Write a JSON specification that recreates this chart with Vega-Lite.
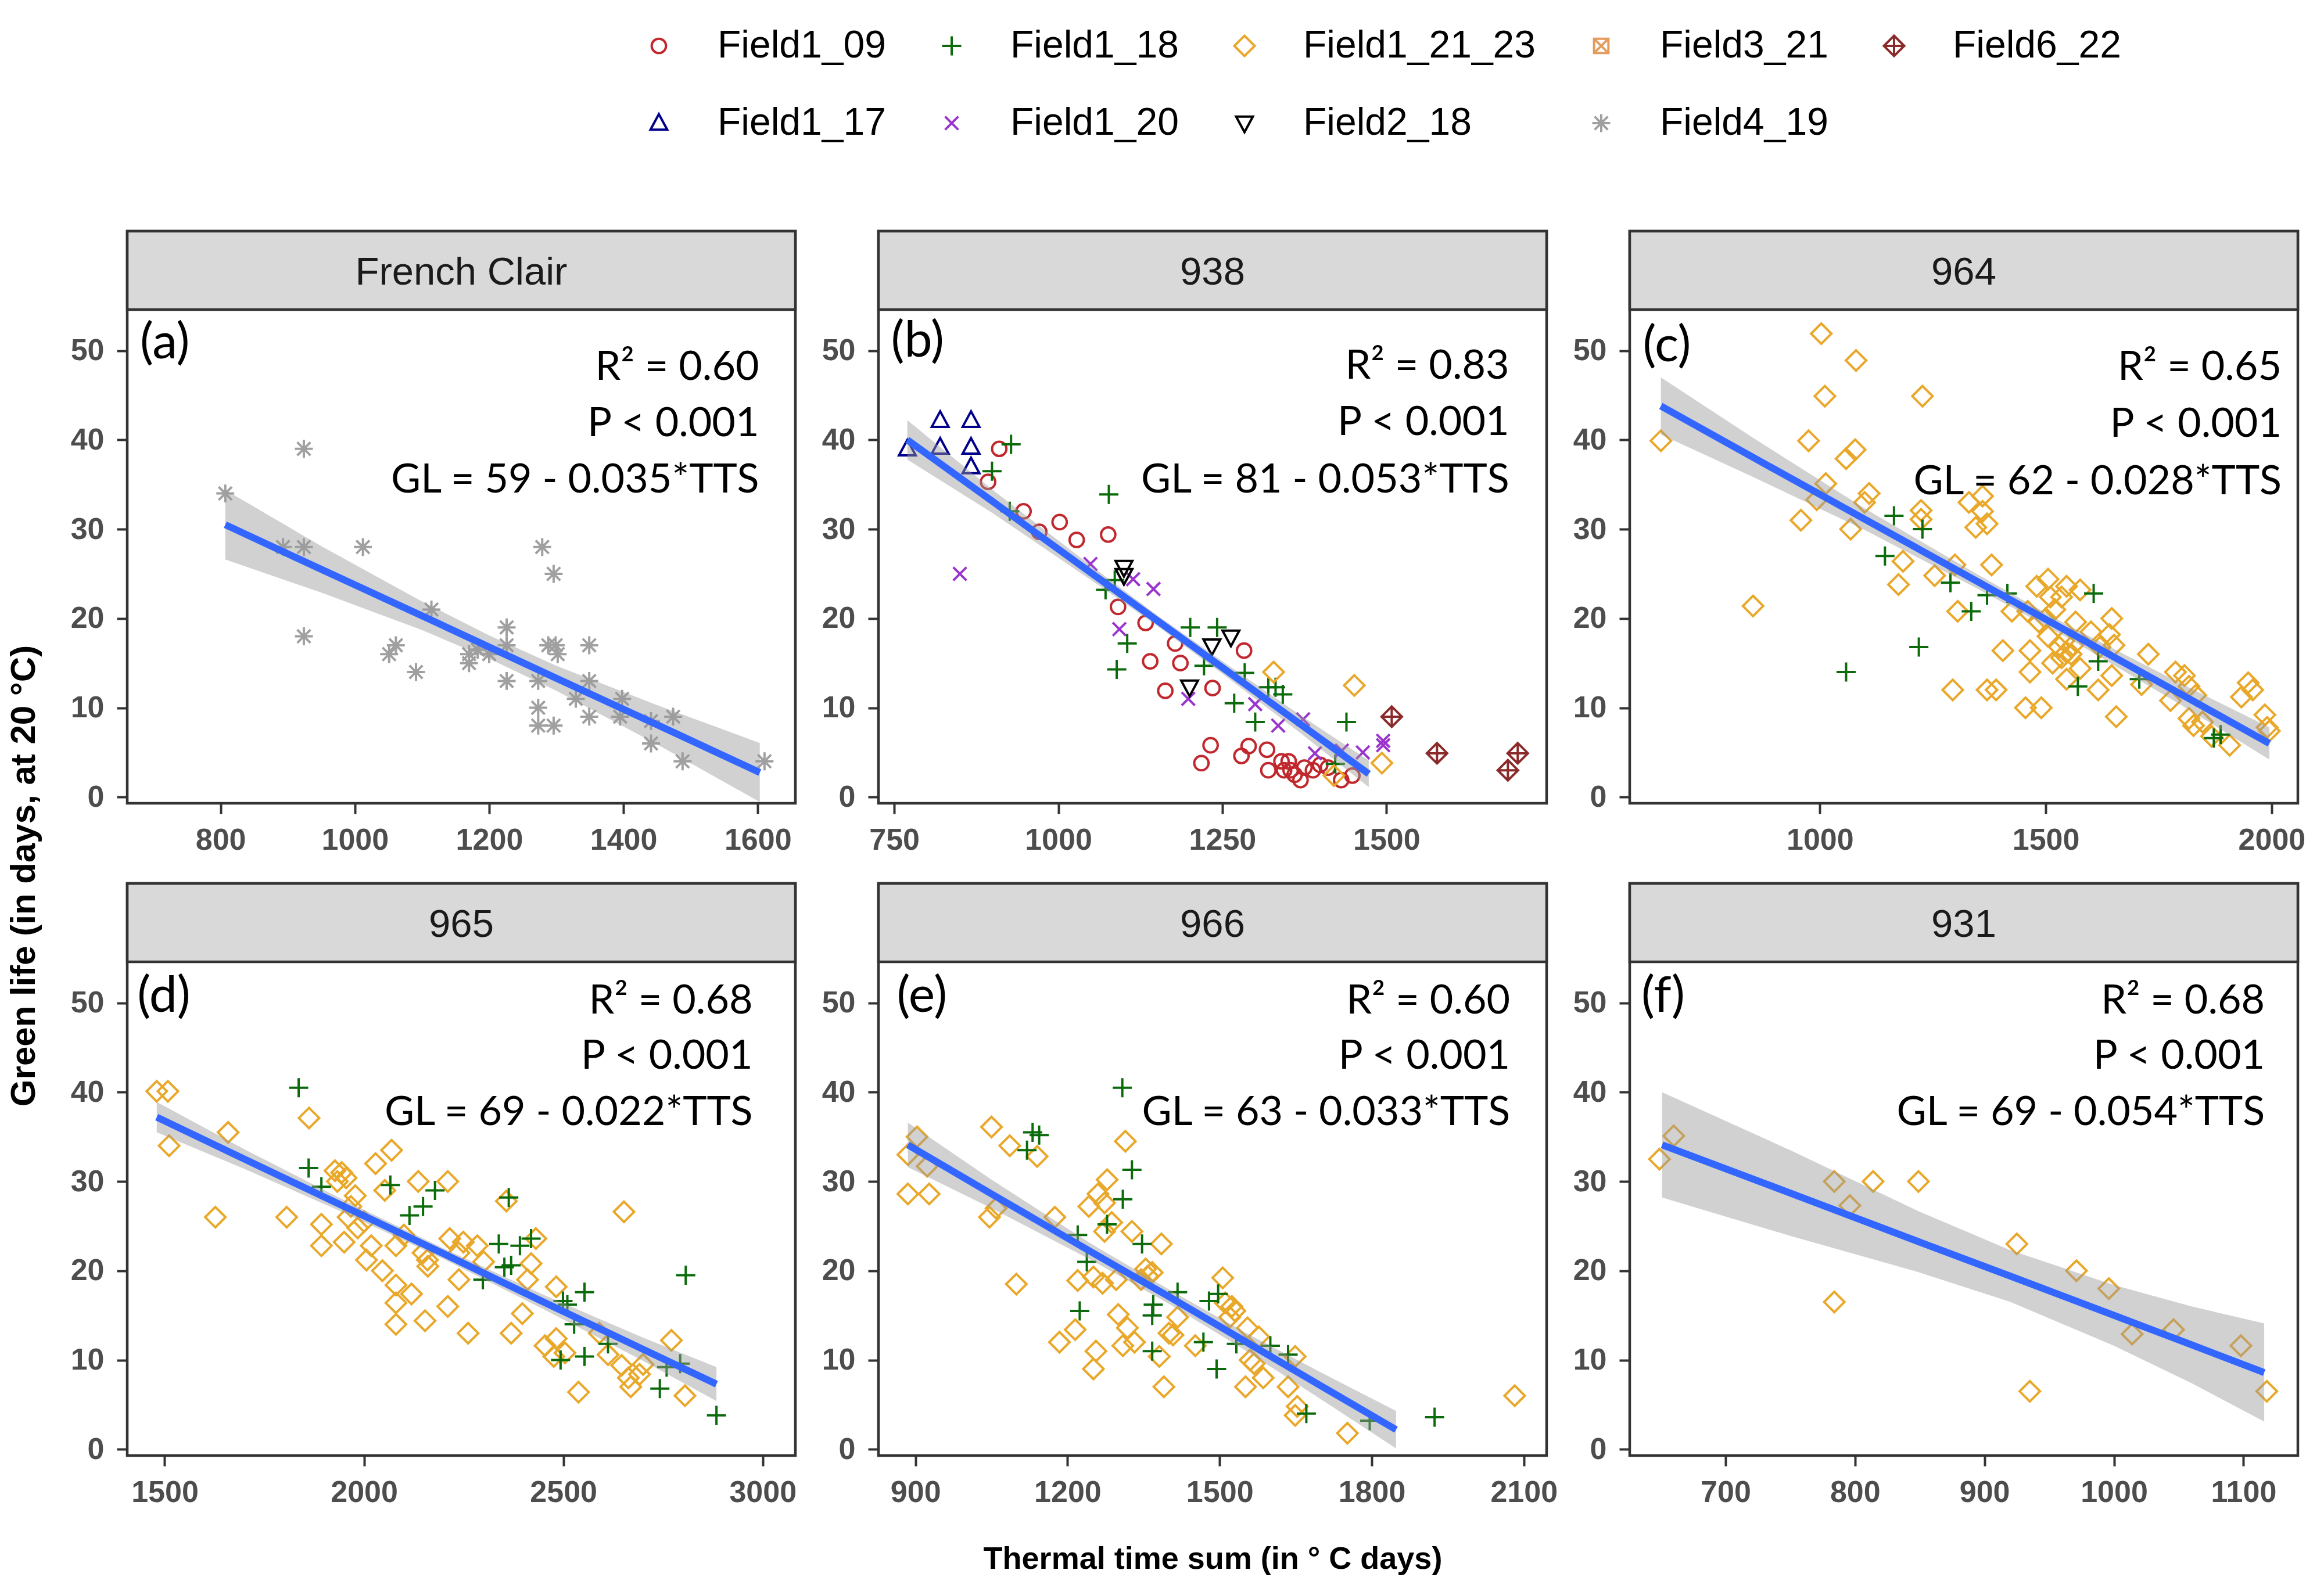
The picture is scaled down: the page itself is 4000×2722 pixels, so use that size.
{
  "$schema": "https://vega.github.io/schema/vega-lite/v6.json",
  "background": "white",
  "padding": {"left": 11, "top": 46, "right": 10, "bottom": 0},
  "title": {"text": "Green life (in days, at 20 °C)", "orient": "left", "anchor": "middle", "frame": "group", "font": "Liberation Sans", "fontSize": 60, "fontWeight": "bold", "color": "#000000", "offset": 46, "dx": -1110},
  "datasets": {
    "heads": [{"p": "a", "s": "French Clair"}, {"p": "b", "s": "938"}, {"p": "c", "s": "964"}, {"p": "d", "s": "965"}, {"p": "e", "s": "966"}, {"p": "f", "s": "931"}],
    "stat": [
      {"p": "a", "x": 1602, "y": 48.1, "t": "R² = 0.60"}, {"p": "a", "x": 1602, "y": 41.8, "t": "P < 0.001"}, {"p": "a", "x": 1602, "y": 35.5, "t": "GL = 59 - 0.035*TTS"},
      {"p": "b", "x": 1687, "y": 48.2, "t": "R² = 0.83"}, {"p": "b", "x": 1687, "y": 41.9, "t": "P < 0.001"}, {"p": "b", "x": 1687, "y": 35.5, "t": "GL = 81 - 0.053*TTS"},
      {"p": "c", "x": 2022, "y": 48.1, "t": "R² = 0.65"}, {"p": "c", "x": 2022, "y": 41.7, "t": "P < 0.001"}, {"p": "c", "x": 2022, "y": 35.3, "t": "GL = 62 - 0.028*TTS"},
      {"p": "d", "x": 2975, "y": 50.2, "t": "R² = 0.68"}, {"p": "d", "x": 2975, "y": 44.0, "t": "P < 0.001"}, {"p": "d", "x": 2975, "y": 37.7, "t": "GL = 69 - 0.022*TTS"},
      {"p": "e", "x": 2073, "y": 50.2, "t": "R² = 0.60"}, {"p": "e", "x": 2073, "y": 44.0, "t": "P < 0.001"}, {"p": "e", "x": 2073, "y": 37.7, "t": "GL = 63 - 0.033*TTS"},
      {"p": "f", "x": 1116.5, "y": 50.2, "t": "R² = 0.68"}, {"p": "f", "x": 1116.5, "y": 44.0, "t": "P < 0.001"}, {"p": "f", "x": 1116.5, "y": 37.7, "t": "GL = 69 - 0.054*TTS"}
    ],
    "tag": [
      {"p": "a", "x": 680, "y": 50.8, "t": "(a)"}, {"p": "b", "x": 745, "y": 51.0, "t": "(b)"}, {"p": "c", "x": 608, "y": 50.5, "t": "(c)"},
      {"p": "d", "x": 1431, "y": 50.7, "t": "(d)"}, {"p": "e", "x": 863, "y": 50.7, "t": "(e)"}, {"p": "f", "x": 635, "y": 50.7, "t": "(f)"}
    ],
    "fit": [
      {"p": "a", "x": 807, "y": 30.5, "lo": 26.6, "hi": 34.4}, {"p": "a", "x": 950, "y": 25.5, "lo": 22.9, "hi": 28.1}, {"p": "a", "x": 1100, "y": 20.3, "lo": 18.7, "hi": 21.9}, {"p": "a", "x": 1200, "y": 16.8, "lo": 15.5, "hi": 18.1}, {"p": "a", "x": 1300, "y": 13.3, "lo": 11.9, "hi": 14.7}, {"p": "a", "x": 1450, "y": 8.1, "lo": 5.9, "hi": 10.3}, {"p": "a", "x": 1603, "y": 2.75, "lo": -0.55, "hi": 6.05},
      {"p": "b", "x": 770, "y": 40.0, "lo": 37.8, "hi": 42.2}, {"p": "b", "x": 900, "y": 33.1, "lo": 31.8, "hi": 34.4}, {"p": "b", "x": 1050, "y": 25.1, "lo": 24.3, "hi": 25.9}, {"p": "b", "x": 1150, "y": 19.8, "lo": 19.2, "hi": 20.4}, {"p": "b", "x": 1250, "y": 14.5, "lo": 13.8, "hi": 15.2}, {"p": "b", "x": 1370, "y": 8.1, "lo": 7.1, "hi": 9.1}, {"p": "b", "x": 1473, "y": 2.6, "lo": 1.1, "hi": 4.1},
      {"p": "c", "x": 648, "y": 43.8, "lo": 40.6, "hi": 47.0}, {"p": "c", "x": 850, "y": 38.1, "lo": 35.9, "hi": 40.3}, {"p": "c", "x": 1100, "y": 31.1, "lo": 29.9, "hi": 32.3}, {"p": "c", "x": 1350, "y": 24.1, "lo": 23.3, "hi": 24.9}, {"p": "c", "x": 1550, "y": 18.5, "lo": 17.8, "hi": 19.2}, {"p": "c", "x": 1800, "y": 11.5, "lo": 10.3, "hi": 12.7}, {"p": "c", "x": 1995, "y": 6.0, "lo": 4.2, "hi": 7.8},
      {"p": "d", "x": 1480, "y": 37.2, "lo": 35.5, "hi": 38.9}, {"p": "d", "x": 1700, "y": 32.5, "lo": 31.4, "hi": 33.6}, {"p": "d", "x": 1950, "y": 27.2, "lo": 26.5, "hi": 27.9}, {"p": "d", "x": 2200, "y": 21.9, "lo": 21.3, "hi": 22.5}, {"p": "d", "x": 2450, "y": 16.5, "lo": 15.7, "hi": 17.3}, {"p": "d", "x": 2700, "y": 11.2, "lo": 9.9, "hi": 12.5}, {"p": "d", "x": 2884, "y": 7.3, "lo": 5.4, "hi": 9.2},
      {"p": "e", "x": 885, "y": 34.1, "lo": 31.6, "hi": 36.6}, {"p": "e", "x": 1050, "y": 28.6, "lo": 27.0, "hi": 30.2}, {"p": "e", "x": 1250, "y": 22.0, "lo": 21.1, "hi": 22.9}, {"p": "e", "x": 1400, "y": 17.1, "lo": 16.3, "hi": 17.9}, {"p": "e", "x": 1550, "y": 12.1, "lo": 11.1, "hi": 13.1}, {"p": "e", "x": 1700, "y": 7.1, "lo": 5.6, "hi": 8.6}, {"p": "e", "x": 1848, "y": 2.2, "lo": 0.1, "hi": 4.3},
      {"p": "f", "x": 651, "y": 34.1, "lo": 28.2, "hi": 40.0}, {"p": "f", "x": 750, "y": 28.7, "lo": 23.9, "hi": 33.5}, {"p": "f", "x": 850, "y": 23.2, "lo": 19.8, "hi": 26.6}, {"p": "f", "x": 920, "y": 19.4, "lo": 16.5, "hi": 22.3}, {"p": "f", "x": 1000, "y": 15.0, "lo": 11.6, "hi": 18.4}, {"p": "f", "x": 1060, "y": 11.7, "lo": 7.4, "hi": 16.0}, {"p": "f", "x": 1116, "y": 8.6, "lo": 3.1, "hi": 14.1}
    ],
    "pts": [
      {"p":"a","f":"Field4_19","x":807,"y":34},{"p":"a","f":"Field4_19","x":924,"y":39},{"p":"a","f":"Field4_19","x":893,"y":28},{"p":"a","f":"Field4_19","x":924,"y":28},{"p":"a","f":"Field4_19","x":1012,"y":28},{"p":"a","f":"Field4_19","x":924,"y":18},{"p":"a","f":"Field4_19","x":1061,"y":17},{"p":"a","f":"Field4_19","x":1051,"y":16},{"p":"a","f":"Field4_19","x":1091,"y":14},{"p":"a","f":"Field4_19","x":1114,"y":21},{"p":"a","f":"Field4_19","x":1170,"y":16},{"p":"a","f":"Field4_19","x":1170,"y":15},{"p":"a","f":"Field4_19","x":1183,"y":16.5},{"p":"a","f":"Field4_19","x":1200,"y":16},{"p":"a","f":"Field4_19","x":1226,"y":19},{"p":"a","f":"Field4_19","x":1226,"y":17},{"p":"a","f":"Field4_19","x":1226,"y":13},{"p":"a","f":"Field4_19","x":1273,"y":13},{"p":"a","f":"Field4_19","x":1279,"y":28},{"p":"a","f":"Field4_19","x":1296,"y":25},{"p":"a","f":"Field4_19","x":1288,"y":17},{"p":"a","f":"Field4_19","x":1299,"y":17},{"p":"a","f":"Field4_19","x":1302,"y":16},{"p":"a","f":"Field4_19","x":1273,"y":10},{"p":"a","f":"Field4_19","x":1273,"y":8},{"p":"a","f":"Field4_19","x":1296,"y":8},{"p":"a","f":"Field4_19","x":1349,"y":17},{"p":"a","f":"Field4_19","x":1349,"y":13},{"p":"a","f":"Field4_19","x":1329,"y":11},{"p":"a","f":"Field4_19","x":1349,"y":9},{"p":"a","f":"Field4_19","x":1398,"y":11},{"p":"a","f":"Field4_19","x":1395,"y":9},{"p":"a","f":"Field4_19","x":1441,"y":8.5},{"p":"a","f":"Field4_19","x":1441,"y":6},{"p":"a","f":"Field4_19","x":1474,"y":9},{"p":"a","f":"Field4_19","x":1488,"y":4},{"p":"a","f":"Field4_19","x":1610,"y":4},
      {"p":"b","f":"Field1_17","x":770,"y":39},{"p":"b","f":"Field1_17","x":820,"y":42.2},{"p":"b","f":"Field1_17","x":820,"y":39.2},{"p":"b","f":"Field1_17","x":867,"y":42.2},{"p":"b","f":"Field1_17","x":867,"y":39.2},{"p":"b","f":"Field1_17","x":867,"y":37},
      {"p":"b","f":"Field1_09","x":910,"y":39},{"p":"b","f":"Field1_09","x":893,"y":35.3},{"p":"b","f":"Field1_09","x":947,"y":32},{"p":"b","f":"Field1_09","x":971,"y":29.7},{"p":"b","f":"Field1_09","x":1002,"y":30.8},{"p":"b","f":"Field1_09","x":1028,"y":28.8},{"p":"b","f":"Field1_09","x":1076,"y":29.4},{"p":"b","f":"Field1_09","x":1091,"y":21.3},{"p":"b","f":"Field1_09","x":1133,"y":19.5},{"p":"b","f":"Field1_09","x":1178,"y":17.2},{"p":"b","f":"Field1_09","x":1140,"y":15.2},{"p":"b","f":"Field1_09","x":1186,"y":15},{"p":"b","f":"Field1_09","x":1235,"y":12.2},{"p":"b","f":"Field1_09","x":1163,"y":11.9},{"p":"b","f":"Field1_09","x":1283,"y":16.4},{"p":"b","f":"Field1_09","x":1232,"y":5.8},{"p":"b","f":"Field1_09","x":1218,"y":3.8},{"p":"b","f":"Field1_09","x":1279,"y":4.6},{"p":"b","f":"Field1_09","x":1290,"y":5.7},{"p":"b","f":"Field1_09","x":1318,"y":5.3},{"p":"b","f":"Field1_09","x":1320,"y":3},{"p":"b","f":"Field1_09","x":1344,"y":3},{"p":"b","f":"Field1_09","x":1351,"y":4},{"p":"b","f":"Field1_09","x":1354,"y":3},{"p":"b","f":"Field1_09","x":1369,"y":1.9},{"p":"b","f":"Field1_09","x":1388,"y":3},{"p":"b","f":"Field1_09","x":1399,"y":3.6},{"p":"b","f":"Field1_09","x":1431,"y":1.9},{"p":"b","f":"Field1_09","x":1448,"y":2.4},{"p":"b","f":"Field1_09","x":1411,"y":3.3},{"p":"b","f":"Field1_09","x":1375,"y":3.3},{"p":"b","f":"Field1_09","x":1340,"y":4},{"p":"b","f":"Field1_09","x":1360,"y":2.5},
      {"p":"b","f":"Field1_18","x":928,"y":39.5},{"p":"b","f":"Field1_18","x":899,"y":36.5},{"p":"b","f":"Field1_18","x":1077,"y":33.9},{"p":"b","f":"Field1_18","x":926,"y":32},{"p":"b","f":"Field1_18","x":1086,"y":24.3},{"p":"b","f":"Field1_18","x":1072,"y":23.2},{"p":"b","f":"Field1_18","x":1105,"y":17.2},{"p":"b","f":"Field1_18","x":1089,"y":14.3},{"p":"b","f":"Field1_18","x":1201,"y":19},{"p":"b","f":"Field1_18","x":1242,"y":19},{"p":"b","f":"Field1_18","x":1222,"y":14.7},{"p":"b","f":"Field1_18","x":1284,"y":13.9},{"p":"b","f":"Field1_18","x":1268,"y":10.5},{"p":"b","f":"Field1_18","x":1300,"y":8.4},{"p":"b","f":"Field1_18","x":1439,"y":8.4},{"p":"b","f":"Field1_18","x":1320,"y":12.3},{"p":"b","f":"Field1_18","x":1331,"y":12.3},{"p":"b","f":"Field1_18","x":1342,"y":11.5},{"p":"b","f":"Field1_18","x":1422,"y":3.7},
      {"p":"b","f":"Field1_20","x":850,"y":25},{"p":"b","f":"Field1_20","x":1049,"y":26.1},{"p":"b","f":"Field1_20","x":1114,"y":24.4},{"p":"b","f":"Field1_20","x":1145,"y":23.3},{"p":"b","f":"Field1_20","x":1093,"y":18.8},{"p":"b","f":"Field1_20","x":1198,"y":11},{"p":"b","f":"Field1_20","x":1300,"y":10.4},{"p":"b","f":"Field1_20","x":1335,"y":8},{"p":"b","f":"Field1_20","x":1373,"y":8.7},{"p":"b","f":"Field1_20","x":1432,"y":5.2},{"p":"b","f":"Field1_20","x":1464,"y":5},{"p":"b","f":"Field1_20","x":1495,"y":5.8},{"p":"b","f":"Field1_20","x":1495,"y":6.3},{"p":"b","f":"Field1_20","x":1391,"y":4.9},
      {"p":"b","f":"Field2_18","x":1100,"y":25.7},{"p":"b","f":"Field2_18","x":1100,"y":24.8},{"p":"b","f":"Field2_18","x":1234,"y":16.9},{"p":"b","f":"Field2_18","x":1263,"y":17.9},{"p":"b","f":"Field2_18","x":1200,"y":12.3},
      {"p":"b","f":"Field1_21_23","x":1328,"y":14},{"p":"b","f":"Field1_21_23","x":1451,"y":12.5},{"p":"b","f":"Field1_21_23","x":1493,"y":3.8},{"p":"b","f":"Field1_21_23","x":1420,"y":2.4},
      {"p":"b","f":"Field6_22","x":1508,"y":9},{"p":"b","f":"Field6_22","x":1577,"y":4.9},{"p":"b","f":"Field6_22","x":1700,"y":4.9},{"p":"b","f":"Field6_22","x":1685,"y":3},
      {"p":"c","f":"Field1_21_23","x":1003,"y":51.9},{"p":"c","f":"Field1_21_23","x":1080,"y":48.9},{"p":"c","f":"Field1_21_23","x":1011,"y":44.9},{"p":"c","f":"Field1_21_23","x":1227,"y":44.9},{"p":"c","f":"Field1_21_23","x":648,"y":39.9},{"p":"c","f":"Field1_21_23","x":975,"y":39.9},{"p":"c","f":"Field1_21_23","x":1078,"y":38.9},{"p":"c","f":"Field1_21_23","x":1058,"y":37.9},{"p":"c","f":"Field1_21_23","x":1013,"y":35.1},{"p":"c","f":"Field1_21_23","x":1109,"y":34},{"p":"c","f":"Field1_21_23","x":1099,"y":33},{"p":"c","f":"Field1_21_23","x":993,"y":33.3},{"p":"c","f":"Field1_21_23","x":958,"y":31},{"p":"c","f":"Field1_21_23","x":1224,"y":32.1},{"p":"c","f":"Field1_21_23","x":1224,"y":31.1},{"p":"c","f":"Field1_21_23","x":1068,"y":30},{"p":"c","f":"Field1_21_23","x":1330,"y":33},{"p":"c","f":"Field1_21_23","x":1360,"y":33.7},{"p":"c","f":"Field1_21_23","x":1360,"y":32},{"p":"c","f":"Field1_21_23","x":1345,"y":30.2},{"p":"c","f":"Field1_21_23","x":1370,"y":30.6},{"p":"c","f":"Field1_21_23","x":1184,"y":26.4},{"p":"c","f":"Field1_21_23","x":1174,"y":23.8},{"p":"c","f":"Field1_21_23","x":1299,"y":26},{"p":"c","f":"Field1_21_23","x":1254,"y":24.8},{"p":"c","f":"Field1_21_23","x":1380,"y":26},{"p":"c","f":"Field1_21_23","x":852,"y":21.4},{"p":"c","f":"Field1_21_23","x":1305,"y":20.8},{"p":"c","f":"Field1_21_23","x":1294,"y":12},{"p":"c","f":"Field1_21_23","x":1370,"y":12},{"p":"c","f":"Field1_21_23","x":1390,"y":12},{"p":"c","f":"Field1_21_23","x":1455,"y":10},{"p":"c","f":"Field1_21_23","x":1490,"y":10},{"p":"c","f":"Field1_21_23","x":1656,"y":9},{"p":"c","f":"Field1_21_23","x":1405,"y":16.4},{"p":"c","f":"Field1_21_23","x":1425,"y":20.8},{"p":"c","f":"Field1_21_23","x":1480,"y":23.6},{"p":"c","f":"Field1_21_23","x":1505,"y":24.4},{"p":"c","f":"Field1_21_23","x":1510,"y":22.4},{"p":"c","f":"Field1_21_23","x":1535,"y":22.4},{"p":"c","f":"Field1_21_23","x":1546,"y":23.6},{"p":"c","f":"Field1_21_23","x":1576,"y":23.2},{"p":"c","f":"Field1_21_23","x":1460,"y":20.8},{"p":"c","f":"Field1_21_23","x":1485,"y":19.6},{"p":"c","f":"Field1_21_23","x":1505,"y":18},{"p":"c","f":"Field1_21_23","x":1530,"y":16.8},{"p":"c","f":"Field1_21_23","x":1546,"y":16.2},{"p":"c","f":"Field1_21_23","x":1556,"y":16},{"p":"c","f":"Field1_21_23","x":1535,"y":15.6},{"p":"c","f":"Field1_21_23","x":1465,"y":16.4},{"p":"c","f":"Field1_21_23","x":1465,"y":14},{"p":"c","f":"Field1_21_23","x":1546,"y":13.2},{"p":"c","f":"Field1_21_23","x":1616,"y":12},{"p":"c","f":"Field1_21_23","x":1576,"y":14.4},{"p":"c","f":"Field1_21_23","x":1566,"y":19.6},{"p":"c","f":"Field1_21_23","x":1646,"y":20},{"p":"c","f":"Field1_21_23","x":1641,"y":18.2},{"p":"c","f":"Field1_21_23","x":1651,"y":17},{"p":"c","f":"Field1_21_23","x":1646,"y":13.6},{"p":"c","f":"Field1_21_23","x":1727,"y":16},{"p":"c","f":"Field1_21_23","x":1712,"y":12.6},{"p":"c","f":"Field1_21_23","x":1787,"y":14},{"p":"c","f":"Field1_21_23","x":1807,"y":13.6},{"p":"c","f":"Field1_21_23","x":1817,"y":12.4},{"p":"c","f":"Field1_21_23","x":1776,"y":10.8},{"p":"c","f":"Field1_21_23","x":1832,"y":11.4},{"p":"c","f":"Field1_21_23","x":1817,"y":8.8},{"p":"c","f":"Field1_21_23","x":1827,"y":8},{"p":"c","f":"Field1_21_23","x":1847,"y":8.4},{"p":"c","f":"Field1_21_23","x":1867,"y":6.8},{"p":"c","f":"Field1_21_23","x":1907,"y":5.8},{"p":"c","f":"Field1_21_23","x":1948,"y":12.8},{"p":"c","f":"Field1_21_23","x":1958,"y":12},{"p":"c","f":"Field1_21_23","x":1933,"y":11.2},{"p":"c","f":"Field1_21_23","x":1985,"y":9.2},{"p":"c","f":"Field1_21_23","x":1990,"y":7.8},{"p":"c","f":"Field1_21_23","x":1995,"y":7.4},{"p":"c","f":"Field1_21_23","x":1520,"y":21},{"p":"c","f":"Field1_21_23","x":1500,"y":20},{"p":"c","f":"Field1_21_23","x":1540,"y":17.5},{"p":"c","f":"Field1_21_23","x":1560,"y":17},{"p":"c","f":"Field1_21_23","x":1515,"y":15},{"p":"c","f":"Field1_21_23","x":1600,"y":18.5},{"p":"c","f":"Field1_21_23","x":1620,"y":16.8},
      {"p":"c","f":"Field1_18","x":1164,"y":31.5},{"p":"c","f":"Field1_18","x":1227,"y":30},{"p":"c","f":"Field1_18","x":1144,"y":27},{"p":"c","f":"Field1_18","x":1289,"y":24},{"p":"c","f":"Field1_18","x":1415,"y":22.8},{"p":"c","f":"Field1_18","x":1606,"y":22.8},{"p":"c","f":"Field1_18","x":1370,"y":22.6},{"p":"c","f":"Field1_18","x":1335,"y":20.8},{"p":"c","f":"Field1_18","x":1219,"y":16.8},{"p":"c","f":"Field1_18","x":1058,"y":14},{"p":"c","f":"Field1_18","x":1616,"y":15.2},{"p":"c","f":"Field1_18","x":1571,"y":12.4},{"p":"c","f":"Field1_18","x":1707,"y":13.2},{"p":"c","f":"Field1_18","x":1872,"y":6.6},{"p":"c","f":"Field1_18","x":1887,"y":7},
      {"p":"d","f":"Field1_21_23","x":1480,"y":40.1},{"p":"d","f":"Field1_21_23","x":1508,"y":40.1},{"p":"d","f":"Field1_21_23","x":1511,"y":34},{"p":"d","f":"Field1_21_23","x":1627,"y":26},{"p":"d","f":"Field1_21_23","x":1659,"y":35.5},{"p":"d","f":"Field1_21_23","x":1806,"y":26},{"p":"d","f":"Field1_21_23","x":1862,"y":37.1},{"p":"d","f":"Field1_21_23","x":1927,"y":31.2},{"p":"d","f":"Field1_21_23","x":1944,"y":31},{"p":"d","f":"Field1_21_23","x":1955,"y":30.4},{"p":"d","f":"Field1_21_23","x":1933,"y":30},{"p":"d","f":"Field1_21_23","x":1978,"y":28.4},{"p":"d","f":"Field1_21_23","x":1967,"y":27.2},{"p":"d","f":"Field1_21_23","x":2029,"y":32},{"p":"d","f":"Field1_21_23","x":2069,"y":33.5},{"p":"d","f":"Field1_21_23","x":2052,"y":29},{"p":"d","f":"Field1_21_23","x":2136,"y":30},{"p":"d","f":"Field1_21_23","x":2210,"y":30},{"p":"d","f":"Field1_21_23","x":1893,"y":25.2},{"p":"d","f":"Field1_21_23","x":1893,"y":22.8},{"p":"d","f":"Field1_21_23","x":1950,"y":23.2},{"p":"d","f":"Field1_21_23","x":1984,"y":24.8},{"p":"d","f":"Field1_21_23","x":2018,"y":22.8},{"p":"d","f":"Field1_21_23","x":2006,"y":21.2},{"p":"d","f":"Field1_21_23","x":2046,"y":20},{"p":"d","f":"Field1_21_23","x":2080,"y":18.4},{"p":"d","f":"Field1_21_23","x":2080,"y":16.4},{"p":"d","f":"Field1_21_23","x":2119,"y":17.4},{"p":"d","f":"Field1_21_23","x":2080,"y":14},{"p":"d","f":"Field1_21_23","x":2153,"y":14.4},{"p":"d","f":"Field1_21_23","x":2210,"y":16},{"p":"d","f":"Field1_21_23","x":2238,"y":19},{"p":"d","f":"Field1_21_23","x":2261,"y":13},{"p":"d","f":"Field1_21_23","x":2159,"y":21.2},{"p":"d","f":"Field1_21_23","x":2148,"y":22},{"p":"d","f":"Field1_21_23","x":2080,"y":22.8},{"p":"d","f":"Field1_21_23","x":2215,"y":23.6},{"p":"d","f":"Field1_21_23","x":2249,"y":23.2},{"p":"d","f":"Field1_21_23","x":2284,"y":22.8},{"p":"d","f":"Field1_21_23","x":2238,"y":22},{"p":"d","f":"Field1_21_23","x":2369,"y":13},{"p":"d","f":"Field1_21_23","x":2397,"y":15.2},{"p":"d","f":"Field1_21_23","x":2357,"y":27.8},{"p":"d","f":"Field1_21_23","x":2419,"y":20.8},{"p":"d","f":"Field1_21_23","x":2431,"y":23.6},{"p":"d","f":"Field1_21_23","x":2482,"y":18.2},{"p":"d","f":"Field1_21_23","x":2454,"y":11.6},{"p":"d","f":"Field1_21_23","x":2482,"y":12.4},{"p":"d","f":"Field1_21_23","x":2504,"y":10.8},{"p":"d","f":"Field1_21_23","x":2476,"y":10.4},{"p":"d","f":"Field1_21_23","x":2538,"y":6.4},{"p":"d","f":"Field1_21_23","x":2652,"y":26.6},{"p":"d","f":"Field1_21_23","x":2612,"y":10.6},{"p":"d","f":"Field1_21_23","x":2663,"y":8},{"p":"d","f":"Field1_21_23","x":2669,"y":7},{"p":"d","f":"Field1_21_23","x":2691,"y":8.4},{"p":"d","f":"Field1_21_23","x":2771,"y":12.2},{"p":"d","f":"Field1_21_23","x":2805,"y":6},{"p":"d","f":"Field1_21_23","x":2646,"y":9.4},{"p":"d","f":"Field1_21_23","x":1960,"y":26},{"p":"d","f":"Field1_21_23","x":2000,"y":25.5},{"p":"d","f":"Field1_21_23","x":2100,"y":24},{"p":"d","f":"Field1_21_23","x":2160,"y":20.5},{"p":"d","f":"Field1_21_23","x":2300,"y":21},{"p":"d","f":"Field1_21_23","x":2410,"y":19},{"p":"d","f":"Field1_21_23","x":2590,"y":13},{"p":"d","f":"Field1_21_23","x":2700,"y":9.5},
      {"p":"d","f":"Field1_18","x":1836,"y":40.5},{"p":"d","f":"Field1_18","x":1861,"y":31.5},{"p":"d","f":"Field1_18","x":1893,"y":29.4},{"p":"d","f":"Field1_18","x":2066,"y":29.6},{"p":"d","f":"Field1_18","x":2178,"y":29},{"p":"d","f":"Field1_18","x":2148,"y":27.2},{"p":"d","f":"Field1_18","x":2114,"y":26.2},{"p":"d","f":"Field1_18","x":2363,"y":28.2},{"p":"d","f":"Field1_18","x":2338,"y":23},{"p":"d","f":"Field1_18","x":2391,"y":22.8},{"p":"d","f":"Field1_18","x":2419,"y":23.6},{"p":"d","f":"Field1_18","x":2352,"y":20.4},{"p":"d","f":"Field1_18","x":2369,"y":20.6},{"p":"d","f":"Field1_18","x":2298,"y":19},{"p":"d","f":"Field1_18","x":2499,"y":16.6},{"p":"d","f":"Field1_18","x":2510,"y":16.2},{"p":"d","f":"Field1_18","x":2553,"y":17.6},{"p":"d","f":"Field1_18","x":2527,"y":14},{"p":"d","f":"Field1_18","x":2553,"y":10.4},{"p":"d","f":"Field1_18","x":2493,"y":10},{"p":"d","f":"Field1_18","x":2612,"y":11.8},{"p":"d","f":"Field1_18","x":2742,"y":6.8},{"p":"d","f":"Field1_18","x":2759,"y":9.2},{"p":"d","f":"Field1_18","x":2793,"y":9.6},{"p":"d","f":"Field1_18","x":2807,"y":19.5},{"p":"d","f":"Field1_18","x":2884,"y":3.8},
      {"p":"e","f":"Field1_21_23","x":885,"y":33},{"p":"e","f":"Field1_21_23","x":903,"y":35},{"p":"e","f":"Field1_21_23","x":923,"y":31.7},{"p":"e","f":"Field1_21_23","x":885,"y":28.6},{"p":"e","f":"Field1_21_23","x":927,"y":28.6},{"p":"e","f":"Field1_21_23","x":1050,"y":36.1},{"p":"e","f":"Field1_21_23","x":1086,"y":34},{"p":"e","f":"Field1_21_23","x":1140,"y":32.8},{"p":"e","f":"Field1_21_23","x":1046,"y":26},{"p":"e","f":"Field1_21_23","x":1059,"y":27},{"p":"e","f":"Field1_21_23","x":1099,"y":18.5},{"p":"e","f":"Field1_21_23","x":1175,"y":26},{"p":"e","f":"Field1_21_23","x":1314,"y":34.5},{"p":"e","f":"Field1_21_23","x":1278,"y":30.2},{"p":"e","f":"Field1_21_23","x":1260,"y":28.6},{"p":"e","f":"Field1_21_23","x":1242,"y":27.2},{"p":"e","f":"Field1_21_23","x":1273,"y":27.6},{"p":"e","f":"Field1_21_23","x":1287,"y":25.4},{"p":"e","f":"Field1_21_23","x":1273,"y":24.4},{"p":"e","f":"Field1_21_23","x":1327,"y":24.4},{"p":"e","f":"Field1_21_23","x":1385,"y":23},{"p":"e","f":"Field1_21_23","x":1220,"y":18.9},{"p":"e","f":"Field1_21_23","x":1251,"y":19.3},{"p":"e","f":"Field1_21_23","x":1269,"y":18.6},{"p":"e","f":"Field1_21_23","x":1296,"y":19},{"p":"e","f":"Field1_21_23","x":1354,"y":20.2},{"p":"e","f":"Field1_21_23","x":1367,"y":19.8},{"p":"e","f":"Field1_21_23","x":1358,"y":19.4},{"p":"e","f":"Field1_21_23","x":1300,"y":15.1},{"p":"e","f":"Field1_21_23","x":1215,"y":13.4},{"p":"e","f":"Field1_21_23","x":1184,"y":12},{"p":"e","f":"Field1_21_23","x":1256,"y":11},{"p":"e","f":"Field1_21_23","x":1251,"y":9},{"p":"e","f":"Field1_21_23","x":1318,"y":13.6},{"p":"e","f":"Field1_21_23","x":1332,"y":12},{"p":"e","f":"Field1_21_23","x":1309,"y":11.6},{"p":"e","f":"Field1_21_23","x":1381,"y":10.4},{"p":"e","f":"Field1_21_23","x":1390,"y":7},{"p":"e","f":"Field1_21_23","x":1408,"y":12.8},{"p":"e","f":"Field1_21_23","x":1417,"y":14.8},{"p":"e","f":"Field1_21_23","x":1452,"y":11.6},{"p":"e","f":"Field1_21_23","x":1506,"y":19.2},{"p":"e","f":"Field1_21_23","x":1511,"y":16.4},{"p":"e","f":"Field1_21_23","x":1524,"y":16},{"p":"e","f":"Field1_21_23","x":1520,"y":14.8},{"p":"e","f":"Field1_21_23","x":1555,"y":13.6},{"p":"e","f":"Field1_21_23","x":1577,"y":12.6},{"p":"e","f":"Field1_21_23","x":1568,"y":9.6},{"p":"e","f":"Field1_21_23","x":1551,"y":7},{"p":"e","f":"Field1_21_23","x":1586,"y":8},{"p":"e","f":"Field1_21_23","x":1635,"y":7},{"p":"e","f":"Field1_21_23","x":1649,"y":10.4},{"p":"e","f":"Field1_21_23","x":1653,"y":4.8},{"p":"e","f":"Field1_21_23","x":1649,"y":3.8},{"p":"e","f":"Field1_21_23","x":1752,"y":1.8},{"p":"e","f":"Field1_21_23","x":2082,"y":6},{"p":"e","f":"Field1_21_23","x":1345,"y":19},{"p":"e","f":"Field1_21_23","x":1400,"y":13},{"p":"e","f":"Field1_21_23","x":1530,"y":15.5},{"p":"e","f":"Field1_21_23","x":1560,"y":10},
      {"p":"e","f":"Field1_18","x":1308,"y":40.5},{"p":"e","f":"Field1_18","x":1131,"y":35.5},{"p":"e","f":"Field1_18","x":1144,"y":35.2},{"p":"e","f":"Field1_18","x":1120,"y":33.5},{"p":"e","f":"Field1_18","x":1327,"y":31.3},{"p":"e","f":"Field1_18","x":1309,"y":28},{"p":"e","f":"Field1_18","x":1278,"y":25.2},{"p":"e","f":"Field1_18","x":1347,"y":23},{"p":"e","f":"Field1_18","x":1220,"y":24},{"p":"e","f":"Field1_18","x":1238,"y":21},{"p":"e","f":"Field1_18","x":1224,"y":15.5},{"p":"e","f":"Field1_18","x":1367,"y":15},{"p":"e","f":"Field1_18","x":1369,"y":16.2},{"p":"e","f":"Field1_18","x":1417,"y":17.6},{"p":"e","f":"Field1_18","x":1479,"y":16.6},{"p":"e","f":"Field1_18","x":1497,"y":17.4},{"p":"e","f":"Field1_18","x":1468,"y":12},{"p":"e","f":"Field1_18","x":1367,"y":11},{"p":"e","f":"Field1_18","x":1494,"y":9},{"p":"e","f":"Field1_18","x":1533,"y":11.8},{"p":"e","f":"Field1_18","x":1600,"y":11.6},{"p":"e","f":"Field1_18","x":1635,"y":10.6},{"p":"e","f":"Field1_18","x":1671,"y":4},{"p":"e","f":"Field1_18","x":1796,"y":3.2},{"p":"e","f":"Field1_18","x":1924,"y":3.6},
      {"p":"f","f":"Field1_21_23","x":649,"y":32.5},{"p":"f","f":"Field1_21_23","x":660,"y":35.1},{"p":"f","f":"Field1_21_23","x":784,"y":30},{"p":"f","f":"Field1_21_23","x":814,"y":30},{"p":"f","f":"Field1_21_23","x":849,"y":30},{"p":"f","f":"Field1_21_23","x":796,"y":27.3},{"p":"f","f":"Field1_21_23","x":784,"y":16.5},{"p":"f","f":"Field1_21_23","x":925,"y":23},{"p":"f","f":"Field1_21_23","x":935,"y":6.5},{"p":"f","f":"Field1_21_23","x":971,"y":20},{"p":"f","f":"Field1_21_23","x":996,"y":18},{"p":"f","f":"Field1_21_23","x":1014,"y":12.9},{"p":"f","f":"Field1_21_23","x":1046,"y":13.4},{"p":"f","f":"Field1_21_23","x":1098,"y":11.6},{"p":"f","f":"Field1_21_23","x":1118,"y":6.5}
    ]
  },
  "columns": 3,
  "spacing": {"row": 138, "column": 143},
  "bounds": "flush",
  "resolve": {"scale": {"x": "independent", "y": "independent"}},
  "concat": [
    {
      "width": 1150, "height": 985,
      "layer": [
        {"data": {"name": "heads"}, "transform": [{"filter": "datum.p === 'a'"}], "mark": {"type": "rect", "fill": "#d9d9d9", "stroke": "#333333", "strokeWidth": 4.5}, "encoding": {"x": {"datum": 661, "type": "quantitative", "scale": {"domain": [661, 1656], "nice": false, "zero": false}, "axis": {"title": null, "format": "d", "values": [700, 800, 900, 1000, 1100, 1200, 1300, 1400, 1500, 1600], "labelExpr": "datum.value % 200 ? '' : datum.label", "tickOpacity": {"condition": {"test": "datum.value % 200", "value": 0}, "value": 1}, "gridWidth": {"condition": {"test": "datum.value % 200", "value": 2.5}, "value": 4.5}}}, "x2": {"datum": 1656}, "y": {"datum": 54.6, "type": "quantitative", "scale": {"domain": [-0.7, 63.38], "nice": false, "zero": false}, "axis": {"title": null, "values": [0, 5, 10, 15, 20, 25, 30, 35, 40, 45, 50], "labelExpr": "datum.value % 10 ? '' : datum.label", "tickOpacity": {"condition": {"test": "datum.value % 10", "value": 0}, "value": 1}, "gridWidth": {"condition": {"test": "datum.value % 10", "value": 2.5}, "value": 4.5}}}, "y2": {"datum": 63.38}}},
        {"data": {"name": "heads"}, "transform": [{"filter": "datum.p === 'a'"}], "mark": {"type": "text", "font": "Liberation Sans", "fontSize": 67, "color": "#1a1a1a", "baseline": "middle", "align": "center"}, "encoding": {"x": {"datum": 1158.5, "type": "quantitative"}, "y": {"datum": 58.7, "type": "quantitative"}, "text": {"field": "s", "type": "nominal"}}},
        {"data": {"name": "pts"}, "transform": [{"filter": "datum.p === 'a'"}], "mark": {"type": "point", "filled": false, "strokeWidth": 4, "size": 1700, "opacity": 1},
         "encoding": {"x": {"field": "x", "type": "quantitative"}, "y": {"field": "y", "type": "quantitative"},
                      "color": {"field": "f", "type": "nominal", "title": null, "scale": {"domain": ["Field1_09", "Field1_18", "Field1_21_23", "Field3_21", "Field6_22", "Field1_17", "Field1_20", "Field2_18", "Field4_19"], "range": ["#C0282D", "#0B6B0B", "#E9A82A", "#E39C5C", "#8B2A2A", "#00008B", "#9A32CD", "#000000", "#A0A0A0"]}},
                      "shape": {"field": "f", "type": "nominal", "title": null, "scale": {"domain": ["Field1_09", "Field1_18", "Field1_21_23", "Field3_21", "Field6_22", "Field1_17", "Field1_20", "Field2_18", "Field4_19"], "range": ["M0.6,0A0.6,0.6 0 1,1 -0.6,0A0.6,0.6 0 1,1 0.6,0Z", "M-0.8,0L0.8,0M0,-0.8L0,0.8", "M0,-0.85L0.85,0L0,0.85L-0.85,0Z", "M-0.6,-0.6H0.6V0.6H-0.6ZM-0.6,-0.6L0.6,0.6M0.6,-0.6L-0.6,0.6", "M0,-0.85L0.85,0L0,0.85L-0.85,0ZM0,-0.85V0.85M-0.85,0H0.85", "M0,-0.75L0.7,0.55L-0.7,0.55Z", "M-0.55,-0.55L0.55,0.55M0.55,-0.55L-0.55,0.55", "M0,0.75L0.7,-0.55L-0.7,-0.55Z", "M-0.75,0H0.75M0,-0.75V0.75M-0.55,-0.55L0.55,0.55M0.55,-0.55L-0.55,0.55"]}}}},
        {"data": {"name": "fit"}, "transform": [{"filter": "datum.p === 'a'"}], "mark": {"type": "area", "color": "#999999", "opacity": 0.45}, "encoding": {"x": {"field": "x", "type": "quantitative"}, "y": {"field": "lo", "type": "quantitative"}, "y2": {"field": "hi"}}},
        {"data": {"name": "fit"}, "transform": [{"filter": "datum.p === 'a'"}], "mark": {"type": "line", "color": "#3366FF", "strokeWidth": 12}, "encoding": {"x": {"field": "x", "type": "quantitative"}, "y": {"field": "y", "type": "quantitative"}}},
        {"data": {"name": "stat"}, "transform": [{"filter": "datum.p === 'a'"}], "mark": {"type": "text", "align": "right", "baseline": "middle", "font": "Lato", "fontSize": 70, "color": "#000000"}, "encoding": {"x": {"field": "x", "type": "quantitative"}, "y": {"field": "y", "type": "quantitative"}, "text": {"field": "t"}}},
        {"data": {"name": "tag"}, "transform": [{"filter": "datum.p === 'a'"}], "mark": {"type": "text", "align": "left", "baseline": "middle", "font": "Lato", "fontSize": 86, "color": "#000000"}, "encoding": {"x": {"field": "x", "type": "quantitative"}, "y": {"field": "y", "type": "quantitative"}, "text": {"field": "t"}}}
      ]
    },
    {
      "width": 1150, "height": 985,
      "layer": [
        {"data": {"name": "heads"}, "transform": [{"filter": "datum.p === 'b'"}], "mark": {"type": "rect", "fill": "#d9d9d9", "stroke": "#333333", "strokeWidth": 4.5}, "encoding": {"x": {"datum": 726, "type": "quantitative", "scale": {"domain": [726, 1744], "nice": false, "zero": false}, "axis": {"title": null, "format": "d", "values": [750, 875, 1000, 1125, 1250, 1375, 1500, 1625], "labelExpr": "datum.value % 250 ? '' : datum.label", "tickOpacity": {"condition": {"test": "datum.value % 250", "value": 0}, "value": 1}, "gridWidth": {"condition": {"test": "datum.value % 250", "value": 2.5}, "value": 4.5}}}, "x2": {"datum": 1744}, "y": {"datum": 54.6, "type": "quantitative", "scale": {"domain": [-0.7, 63.38], "nice": false, "zero": false}, "axis": {"title": null, "values": [0, 5, 10, 15, 20, 25, 30, 35, 40, 45, 50], "labelExpr": "datum.value % 10 ? '' : datum.label", "tickOpacity": {"condition": {"test": "datum.value % 10", "value": 0}, "value": 1}, "gridWidth": {"condition": {"test": "datum.value % 10", "value": 2.5}, "value": 4.5}}}, "y2": {"datum": 63.38}}},
        {"data": {"name": "heads"}, "transform": [{"filter": "datum.p === 'b'"}], "mark": {"type": "text", "font": "Liberation Sans", "fontSize": 67, "color": "#1a1a1a", "baseline": "middle", "align": "center"}, "encoding": {"x": {"datum": 1235, "type": "quantitative"}, "y": {"datum": 58.7, "type": "quantitative"}, "text": {"field": "s", "type": "nominal"}}},
        {"data": {"name": "pts"}, "transform": [{"filter": "datum.p === 'b'"}], "mark": {"type": "point", "filled": false, "strokeWidth": 4, "size": 1700, "opacity": 1},
         "encoding": {"x": {"field": "x", "type": "quantitative"}, "y": {"field": "y", "type": "quantitative"},
                      "color": {"field": "f", "type": "nominal", "title": null, "scale": {"domain": ["Field1_09", "Field1_18", "Field1_21_23", "Field3_21", "Field6_22", "Field1_17", "Field1_20", "Field2_18", "Field4_19"], "range": ["#C0282D", "#0B6B0B", "#E9A82A", "#E39C5C", "#8B2A2A", "#00008B", "#9A32CD", "#000000", "#A0A0A0"]}},
                      "shape": {"field": "f", "type": "nominal", "title": null, "scale": {"domain": ["Field1_09", "Field1_18", "Field1_21_23", "Field3_21", "Field6_22", "Field1_17", "Field1_20", "Field2_18", "Field4_19"], "range": ["M0.6,0A0.6,0.6 0 1,1 -0.6,0A0.6,0.6 0 1,1 0.6,0Z", "M-0.8,0L0.8,0M0,-0.8L0,0.8", "M0,-0.85L0.85,0L0,0.85L-0.85,0Z", "M-0.6,-0.6H0.6V0.6H-0.6ZM-0.6,-0.6L0.6,0.6M0.6,-0.6L-0.6,0.6", "M0,-0.85L0.85,0L0,0.85L-0.85,0ZM0,-0.85V0.85M-0.85,0H0.85", "M0,-0.75L0.7,0.55L-0.7,0.55Z", "M-0.55,-0.55L0.55,0.55M0.55,-0.55L-0.55,0.55", "M0,0.75L0.7,-0.55L-0.7,-0.55Z", "M-0.75,0H0.75M0,-0.75V0.75M-0.55,-0.55L0.55,0.55M0.55,-0.55L-0.55,0.55"]}}}},
        {"data": {"name": "fit"}, "transform": [{"filter": "datum.p === 'b'"}], "mark": {"type": "area", "color": "#999999", "opacity": 0.45}, "encoding": {"x": {"field": "x", "type": "quantitative"}, "y": {"field": "lo", "type": "quantitative"}, "y2": {"field": "hi"}}},
        {"data": {"name": "fit"}, "transform": [{"filter": "datum.p === 'b'"}], "mark": {"type": "line", "color": "#3366FF", "strokeWidth": 12}, "encoding": {"x": {"field": "x", "type": "quantitative"}, "y": {"field": "y", "type": "quantitative"}}},
        {"data": {"name": "stat"}, "transform": [{"filter": "datum.p === 'b'"}], "mark": {"type": "text", "align": "right", "baseline": "middle", "font": "Lato", "fontSize": 70, "color": "#000000"}, "encoding": {"x": {"field": "x", "type": "quantitative"}, "y": {"field": "y", "type": "quantitative"}, "text": {"field": "t"}}},
        {"data": {"name": "tag"}, "transform": [{"filter": "datum.p === 'b'"}], "mark": {"type": "text", "align": "left", "baseline": "middle", "font": "Lato", "fontSize": 86, "color": "#000000"}, "encoding": {"x": {"field": "x", "type": "quantitative"}, "y": {"field": "y", "type": "quantitative"}, "text": {"field": "t"}}}
      ]
    },
    {
      "width": 1150, "height": 985,
      "layer": [
        {"data": {"name": "heads"}, "transform": [{"filter": "datum.p === 'c'"}], "mark": {"type": "rect", "fill": "#d9d9d9", "stroke": "#333333", "strokeWidth": 4.5}, "encoding": {"x": {"datum": 579, "type": "quantitative", "scale": {"domain": [579, 2058], "nice": false, "zero": false}, "axis": {"title": null, "format": "d", "values": [750, 1000, 1250, 1500, 1750, 2000], "labelExpr": "datum.value % 500 ? '' : datum.label", "tickOpacity": {"condition": {"test": "datum.value % 500", "value": 0}, "value": 1}, "gridWidth": {"condition": {"test": "datum.value % 500", "value": 2.5}, "value": 4.5}}}, "x2": {"datum": 2058}, "y": {"datum": 54.6, "type": "quantitative", "scale": {"domain": [-0.7, 63.38], "nice": false, "zero": false}, "axis": {"title": null, "values": [0, 5, 10, 15, 20, 25, 30, 35, 40, 45, 50], "labelExpr": "datum.value % 10 ? '' : datum.label", "tickOpacity": {"condition": {"test": "datum.value % 10", "value": 0}, "value": 1}, "gridWidth": {"condition": {"test": "datum.value % 10", "value": 2.5}, "value": 4.5}}}, "y2": {"datum": 63.38}}},
        {"data": {"name": "heads"}, "transform": [{"filter": "datum.p === 'c'"}], "mark": {"type": "text", "font": "Liberation Sans", "fontSize": 67, "color": "#1a1a1a", "baseline": "middle", "align": "center"}, "encoding": {"x": {"datum": 1318.5, "type": "quantitative"}, "y": {"datum": 58.7, "type": "quantitative"}, "text": {"field": "s", "type": "nominal"}}},
        {"data": {"name": "pts"}, "transform": [{"filter": "datum.p === 'c'"}], "mark": {"type": "point", "filled": false, "strokeWidth": 4, "size": 1700, "opacity": 1},
         "encoding": {"x": {"field": "x", "type": "quantitative"}, "y": {"field": "y", "type": "quantitative"},
                      "color": {"field": "f", "type": "nominal", "title": null, "scale": {"domain": ["Field1_09", "Field1_18", "Field1_21_23", "Field3_21", "Field6_22", "Field1_17", "Field1_20", "Field2_18", "Field4_19"], "range": ["#C0282D", "#0B6B0B", "#E9A82A", "#E39C5C", "#8B2A2A", "#00008B", "#9A32CD", "#000000", "#A0A0A0"]}},
                      "shape": {"field": "f", "type": "nominal", "title": null, "scale": {"domain": ["Field1_09", "Field1_18", "Field1_21_23", "Field3_21", "Field6_22", "Field1_17", "Field1_20", "Field2_18", "Field4_19"], "range": ["M0.6,0A0.6,0.6 0 1,1 -0.6,0A0.6,0.6 0 1,1 0.6,0Z", "M-0.8,0L0.8,0M0,-0.8L0,0.8", "M0,-0.85L0.85,0L0,0.85L-0.85,0Z", "M-0.6,-0.6H0.6V0.6H-0.6ZM-0.6,-0.6L0.6,0.6M0.6,-0.6L-0.6,0.6", "M0,-0.85L0.85,0L0,0.85L-0.85,0ZM0,-0.85V0.85M-0.85,0H0.85", "M0,-0.75L0.7,0.55L-0.7,0.55Z", "M-0.55,-0.55L0.55,0.55M0.55,-0.55L-0.55,0.55", "M0,0.75L0.7,-0.55L-0.7,-0.55Z", "M-0.75,0H0.75M0,-0.75V0.75M-0.55,-0.55L0.55,0.55M0.55,-0.55L-0.55,0.55"]}}}},
        {"data": {"name": "fit"}, "transform": [{"filter": "datum.p === 'c'"}], "mark": {"type": "area", "color": "#999999", "opacity": 0.45}, "encoding": {"x": {"field": "x", "type": "quantitative"}, "y": {"field": "lo", "type": "quantitative"}, "y2": {"field": "hi"}}},
        {"data": {"name": "fit"}, "transform": [{"filter": "datum.p === 'c'"}], "mark": {"type": "line", "color": "#3366FF", "strokeWidth": 12}, "encoding": {"x": {"field": "x", "type": "quantitative"}, "y": {"field": "y", "type": "quantitative"}}},
        {"data": {"name": "stat"}, "transform": [{"filter": "datum.p === 'c'"}], "mark": {"type": "text", "align": "right", "baseline": "middle", "font": "Lato", "fontSize": 70, "color": "#000000"}, "encoding": {"x": {"field": "x", "type": "quantitative"}, "y": {"field": "y", "type": "quantitative"}, "text": {"field": "t"}}},
        {"data": {"name": "tag"}, "transform": [{"filter": "datum.p === 'c'"}], "mark": {"type": "text", "align": "left", "baseline": "middle", "font": "Lato", "fontSize": 86, "color": "#000000"}, "encoding": {"x": {"field": "x", "type": "quantitative"}, "y": {"field": "y", "type": "quantitative"}, "text": {"field": "t"}}}
      ]
    },
    {
      "width": 1150, "height": 985,
      "layer": [
        {"data": {"name": "heads"}, "transform": [{"filter": "datum.p === 'd'"}], "mark": {"type": "rect", "fill": "#d9d9d9", "stroke": "#333333", "strokeWidth": 4.5}, "encoding": {"x": {"datum": 1406, "type": "quantitative", "scale": {"domain": [1406, 3082], "nice": false, "zero": false}, "axis": {"title": null, "format": "d", "values": [1500, 1750, 2000, 2250, 2500, 2750, 3000], "labelExpr": "datum.value % 500 ? '' : datum.label", "tickOpacity": {"condition": {"test": "datum.value % 500", "value": 0}, "value": 1}, "gridWidth": {"condition": {"test": "datum.value % 500", "value": 2.5}, "value": 4.5}}}, "x2": {"datum": 3082}, "y": {"datum": 54.6, "type": "quantitative", "scale": {"domain": [-0.7, 63.38], "nice": false, "zero": false}, "axis": {"title": null, "values": [0, 5, 10, 15, 20, 25, 30, 35, 40, 45, 50], "labelExpr": "datum.value % 10 ? '' : datum.label", "tickOpacity": {"condition": {"test": "datum.value % 10", "value": 0}, "value": 1}, "gridWidth": {"condition": {"test": "datum.value % 10", "value": 2.5}, "value": 4.5}}}, "y2": {"datum": 63.38}}},
        {"data": {"name": "heads"}, "transform": [{"filter": "datum.p === 'd'"}], "mark": {"type": "text", "font": "Liberation Sans", "fontSize": 67, "color": "#1a1a1a", "baseline": "middle", "align": "center"}, "encoding": {"x": {"datum": 2244, "type": "quantitative"}, "y": {"datum": 58.7, "type": "quantitative"}, "text": {"field": "s", "type": "nominal"}}},
        {"data": {"name": "pts"}, "transform": [{"filter": "datum.p === 'd'"}], "mark": {"type": "point", "filled": false, "strokeWidth": 4, "size": 1700, "opacity": 1},
         "encoding": {"x": {"field": "x", "type": "quantitative"}, "y": {"field": "y", "type": "quantitative"},
                      "color": {"field": "f", "type": "nominal", "title": null, "scale": {"domain": ["Field1_09", "Field1_18", "Field1_21_23", "Field3_21", "Field6_22", "Field1_17", "Field1_20", "Field2_18", "Field4_19"], "range": ["#C0282D", "#0B6B0B", "#E9A82A", "#E39C5C", "#8B2A2A", "#00008B", "#9A32CD", "#000000", "#A0A0A0"]}},
                      "shape": {"field": "f", "type": "nominal", "title": null, "scale": {"domain": ["Field1_09", "Field1_18", "Field1_21_23", "Field3_21", "Field6_22", "Field1_17", "Field1_20", "Field2_18", "Field4_19"], "range": ["M0.6,0A0.6,0.6 0 1,1 -0.6,0A0.6,0.6 0 1,1 0.6,0Z", "M-0.8,0L0.8,0M0,-0.8L0,0.8", "M0,-0.85L0.85,0L0,0.85L-0.85,0Z", "M-0.6,-0.6H0.6V0.6H-0.6ZM-0.6,-0.6L0.6,0.6M0.6,-0.6L-0.6,0.6", "M0,-0.85L0.85,0L0,0.85L-0.85,0ZM0,-0.85V0.85M-0.85,0H0.85", "M0,-0.75L0.7,0.55L-0.7,0.55Z", "M-0.55,-0.55L0.55,0.55M0.55,-0.55L-0.55,0.55", "M0,0.75L0.7,-0.55L-0.7,-0.55Z", "M-0.75,0H0.75M0,-0.75V0.75M-0.55,-0.55L0.55,0.55M0.55,-0.55L-0.55,0.55"]}}}},
        {"data": {"name": "fit"}, "transform": [{"filter": "datum.p === 'd'"}], "mark": {"type": "area", "color": "#999999", "opacity": 0.45}, "encoding": {"x": {"field": "x", "type": "quantitative"}, "y": {"field": "lo", "type": "quantitative"}, "y2": {"field": "hi"}}},
        {"data": {"name": "fit"}, "transform": [{"filter": "datum.p === 'd'"}], "mark": {"type": "line", "color": "#3366FF", "strokeWidth": 12}, "encoding": {"x": {"field": "x", "type": "quantitative"}, "y": {"field": "y", "type": "quantitative"}}},
        {"data": {"name": "stat"}, "transform": [{"filter": "datum.p === 'd'"}], "mark": {"type": "text", "align": "right", "baseline": "middle", "font": "Lato", "fontSize": 70, "color": "#000000"}, "encoding": {"x": {"field": "x", "type": "quantitative"}, "y": {"field": "y", "type": "quantitative"}, "text": {"field": "t"}}},
        {"data": {"name": "tag"}, "transform": [{"filter": "datum.p === 'd'"}], "mark": {"type": "text", "align": "left", "baseline": "middle", "font": "Lato", "fontSize": 86, "color": "#000000"}, "encoding": {"x": {"field": "x", "type": "quantitative"}, "y": {"field": "y", "type": "quantitative"}, "text": {"field": "t"}}}
      ]
    },
    {
      "width": 1150, "height": 985,
      "layer": [
        {"data": {"name": "heads"}, "transform": [{"filter": "datum.p === 'e'"}], "mark": {"type": "rect", "fill": "#d9d9d9", "stroke": "#333333", "strokeWidth": 4.5}, "encoding": {"x": {"datum": 827, "type": "quantitative", "scale": {"domain": [827, 2145], "nice": false, "zero": false}, "axis": {"title": "Thermal time sum (in ° C days)", "titleFont": "Liberation Sans", "titleFontSize": 54, "titleFontWeight": "bold", "titleColor": "#000000", "titlePadding": 62, "format": "d", "values": [900, 1050, 1200, 1350, 1500, 1650, 1800, 1950, 2100], "labelExpr": "datum.value % 300 ? '' : datum.label", "tickOpacity": {"condition": {"test": "datum.value % 300", "value": 0}, "value": 1}, "gridWidth": {"condition": {"test": "datum.value % 300", "value": 2.5}, "value": 4.5}}}, "x2": {"datum": 2145}, "y": {"datum": 54.6, "type": "quantitative", "scale": {"domain": [-0.7, 63.38], "nice": false, "zero": false}, "axis": {"title": null, "values": [0, 5, 10, 15, 20, 25, 30, 35, 40, 45, 50], "labelExpr": "datum.value % 10 ? '' : datum.label", "tickOpacity": {"condition": {"test": "datum.value % 10", "value": 0}, "value": 1}, "gridWidth": {"condition": {"test": "datum.value % 10", "value": 2.5}, "value": 4.5}}}, "y2": {"datum": 63.38}}},
        {"data": {"name": "heads"}, "transform": [{"filter": "datum.p === 'e'"}], "mark": {"type": "text", "font": "Liberation Sans", "fontSize": 67, "color": "#1a1a1a", "baseline": "middle", "align": "center"}, "encoding": {"x": {"datum": 1486, "type": "quantitative"}, "y": {"datum": 58.7, "type": "quantitative"}, "text": {"field": "s", "type": "nominal"}}},
        {"data": {"name": "pts"}, "transform": [{"filter": "datum.p === 'e'"}], "mark": {"type": "point", "filled": false, "strokeWidth": 4, "size": 1700, "opacity": 1},
         "encoding": {"x": {"field": "x", "type": "quantitative"}, "y": {"field": "y", "type": "quantitative"},
                      "color": {"field": "f", "type": "nominal", "title": null, "scale": {"domain": ["Field1_09", "Field1_18", "Field1_21_23", "Field3_21", "Field6_22", "Field1_17", "Field1_20", "Field2_18", "Field4_19"], "range": ["#C0282D", "#0B6B0B", "#E9A82A", "#E39C5C", "#8B2A2A", "#00008B", "#9A32CD", "#000000", "#A0A0A0"]}},
                      "shape": {"field": "f", "type": "nominal", "title": null, "scale": {"domain": ["Field1_09", "Field1_18", "Field1_21_23", "Field3_21", "Field6_22", "Field1_17", "Field1_20", "Field2_18", "Field4_19"], "range": ["M0.6,0A0.6,0.6 0 1,1 -0.6,0A0.6,0.6 0 1,1 0.6,0Z", "M-0.8,0L0.8,0M0,-0.8L0,0.8", "M0,-0.85L0.85,0L0,0.85L-0.85,0Z", "M-0.6,-0.6H0.6V0.6H-0.6ZM-0.6,-0.6L0.6,0.6M0.6,-0.6L-0.6,0.6", "M0,-0.85L0.85,0L0,0.85L-0.85,0ZM0,-0.85V0.85M-0.85,0H0.85", "M0,-0.75L0.7,0.55L-0.7,0.55Z", "M-0.55,-0.55L0.55,0.55M0.55,-0.55L-0.55,0.55", "M0,0.75L0.7,-0.55L-0.7,-0.55Z", "M-0.75,0H0.75M0,-0.75V0.75M-0.55,-0.55L0.55,0.55M0.55,-0.55L-0.55,0.55"]}}}},
        {"data": {"name": "fit"}, "transform": [{"filter": "datum.p === 'e'"}], "mark": {"type": "area", "color": "#999999", "opacity": 0.45}, "encoding": {"x": {"field": "x", "type": "quantitative"}, "y": {"field": "lo", "type": "quantitative"}, "y2": {"field": "hi"}}},
        {"data": {"name": "fit"}, "transform": [{"filter": "datum.p === 'e'"}], "mark": {"type": "line", "color": "#3366FF", "strokeWidth": 12}, "encoding": {"x": {"field": "x", "type": "quantitative"}, "y": {"field": "y", "type": "quantitative"}}},
        {"data": {"name": "stat"}, "transform": [{"filter": "datum.p === 'e'"}], "mark": {"type": "text", "align": "right", "baseline": "middle", "font": "Lato", "fontSize": 70, "color": "#000000"}, "encoding": {"x": {"field": "x", "type": "quantitative"}, "y": {"field": "y", "type": "quantitative"}, "text": {"field": "t"}}},
        {"data": {"name": "tag"}, "transform": [{"filter": "datum.p === 'e'"}], "mark": {"type": "text", "align": "left", "baseline": "middle", "font": "Lato", "fontSize": 86, "color": "#000000"}, "encoding": {"x": {"field": "x", "type": "quantitative"}, "y": {"field": "y", "type": "quantitative"}, "text": {"field": "t"}}}
      ]
    },
    {
      "width": 1150, "height": 985,
      "layer": [
        {"data": {"name": "heads"}, "transform": [{"filter": "datum.p === 'f'"}], "mark": {"type": "rect", "fill": "#d9d9d9", "stroke": "#333333", "strokeWidth": 4.5}, "encoding": {"x": {"datum": 626, "type": "quantitative", "scale": {"domain": [626, 1142], "nice": false, "zero": false}, "axis": {"title": null, "format": "d", "values": [650, 700, 750, 800, 850, 900, 950, 1000, 1050, 1100], "labelExpr": "datum.value % 100 ? '' : datum.label", "tickOpacity": {"condition": {"test": "datum.value % 100", "value": 0}, "value": 1}, "gridWidth": {"condition": {"test": "datum.value % 100", "value": 2.5}, "value": 4.5}}}, "x2": {"datum": 1142}, "y": {"datum": 54.6, "type": "quantitative", "scale": {"domain": [-0.7, 63.38], "nice": false, "zero": false}, "axis": {"title": null, "values": [0, 5, 10, 15, 20, 25, 30, 35, 40, 45, 50], "labelExpr": "datum.value % 10 ? '' : datum.label", "tickOpacity": {"condition": {"test": "datum.value % 10", "value": 0}, "value": 1}, "gridWidth": {"condition": {"test": "datum.value % 10", "value": 2.5}, "value": 4.5}}}, "y2": {"datum": 63.38}}},
        {"data": {"name": "heads"}, "transform": [{"filter": "datum.p === 'f'"}], "mark": {"type": "text", "font": "Liberation Sans", "fontSize": 67, "color": "#1a1a1a", "baseline": "middle", "align": "center"}, "encoding": {"x": {"datum": 884, "type": "quantitative"}, "y": {"datum": 58.7, "type": "quantitative"}, "text": {"field": "s", "type": "nominal"}}},
        {"data": {"name": "pts"}, "transform": [{"filter": "datum.p === 'f'"}], "mark": {"type": "point", "filled": false, "strokeWidth": 4, "size": 1700, "opacity": 1},
         "encoding": {"x": {"field": "x", "type": "quantitative"}, "y": {"field": "y", "type": "quantitative"},
                      "color": {"field": "f", "type": "nominal", "title": null, "scale": {"domain": ["Field1_09", "Field1_18", "Field1_21_23", "Field3_21", "Field6_22", "Field1_17", "Field1_20", "Field2_18", "Field4_19"], "range": ["#C0282D", "#0B6B0B", "#E9A82A", "#E39C5C", "#8B2A2A", "#00008B", "#9A32CD", "#000000", "#A0A0A0"]}},
                      "shape": {"field": "f", "type": "nominal", "title": null, "scale": {"domain": ["Field1_09", "Field1_18", "Field1_21_23", "Field3_21", "Field6_22", "Field1_17", "Field1_20", "Field2_18", "Field4_19"], "range": ["M0.6,0A0.6,0.6 0 1,1 -0.6,0A0.6,0.6 0 1,1 0.6,0Z", "M-0.8,0L0.8,0M0,-0.8L0,0.8", "M0,-0.85L0.85,0L0,0.85L-0.85,0Z", "M-0.6,-0.6H0.6V0.6H-0.6ZM-0.6,-0.6L0.6,0.6M0.6,-0.6L-0.6,0.6", "M0,-0.85L0.85,0L0,0.85L-0.85,0ZM0,-0.85V0.85M-0.85,0H0.85", "M0,-0.75L0.7,0.55L-0.7,0.55Z", "M-0.55,-0.55L0.55,0.55M0.55,-0.55L-0.55,0.55", "M0,0.75L0.7,-0.55L-0.7,-0.55Z", "M-0.75,0H0.75M0,-0.75V0.75M-0.55,-0.55L0.55,0.55M0.55,-0.55L-0.55,0.55"]}}}},
        {"data": {"name": "fit"}, "transform": [{"filter": "datum.p === 'f'"}], "mark": {"type": "area", "color": "#999999", "opacity": 0.45}, "encoding": {"x": {"field": "x", "type": "quantitative"}, "y": {"field": "lo", "type": "quantitative"}, "y2": {"field": "hi"}}},
        {"data": {"name": "fit"}, "transform": [{"filter": "datum.p === 'f'"}], "mark": {"type": "line", "color": "#3366FF", "strokeWidth": 12}, "encoding": {"x": {"field": "x", "type": "quantitative"}, "y": {"field": "y", "type": "quantitative"}}},
        {"data": {"name": "stat"}, "transform": [{"filter": "datum.p === 'f'"}], "mark": {"type": "text", "align": "right", "baseline": "middle", "font": "Lato", "fontSize": 70, "color": "#000000"}, "encoding": {"x": {"field": "x", "type": "quantitative"}, "y": {"field": "y", "type": "quantitative"}, "text": {"field": "t"}}},
        {"data": {"name": "tag"}, "transform": [{"filter": "datum.p === 'f'"}], "mark": {"type": "text", "align": "left", "baseline": "middle", "font": "Lato", "fontSize": 86, "color": "#000000"}, "encoding": {"x": {"field": "x", "type": "quantitative"}, "y": {"field": "y", "type": "quantitative"}, "text": {"field": "t"}}}
      ]
    }
  ],
  "config": {
    "view": {"stroke": "#333333", "strokeWidth": 4.5},
    "axis": {"domain": false, "tickColor": "#333333", "tickWidth": 4, "tickSize": 18, "labelFont": "Liberation Sans", "labelFontSize": 52, "labelFontWeight": "bold", "labelColor": "#4d4d4d", "gridColor": "#ebebeb", "labelOverlap": false},
    "axisX": {"labelPadding": 20, "labelFlush": false},
    "axisY": {"labelPadding": 22},
    "legend": {"orient": "none", "legendX": 882, "legendY": -352, "direction": "horizontal", "columns": 5, "gridAlign": "each", "labelFont": "Liberation Sans", "labelFontSize": 66, "labelColor": "#000000", "labelLimit": 1000, "labelOffset": 68, "symbolSize": 1700, "symbolStrokeWidth": 4, "columnPadding": 80, "rowPadding": 67}
  }
}
